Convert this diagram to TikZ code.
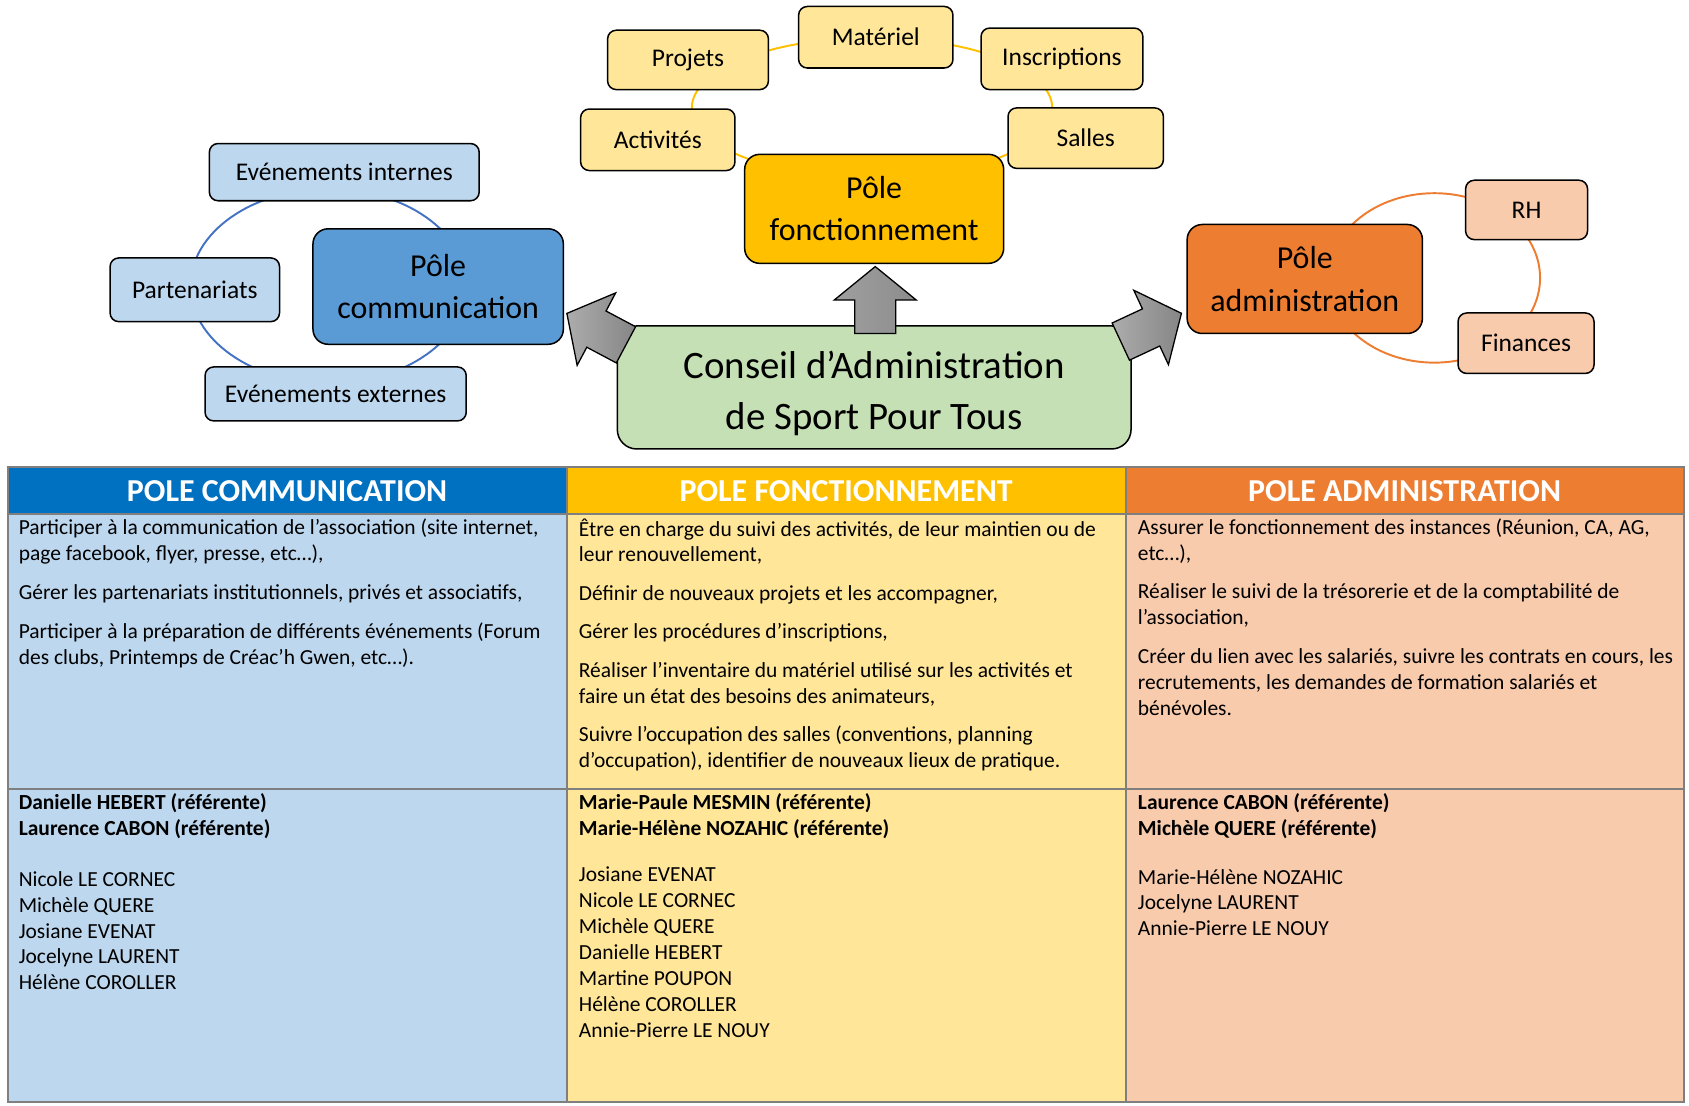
\documentclass[tikz,border=0pt]{standalone}
\usepackage{fontspec}
\setmainfont{Carlito}
\usetikzlibrary{positioning}

\definecolor{comdark}{HTML}{5B9BD5}
\definecolor{comlight}{HTML}{BDD7EE}
\definecolor{comline}{HTML}{4472C4}
\definecolor{comhead}{HTML}{0070C0}
\definecolor{fondark}{HTML}{FFC000}
\definecolor{fonlight}{HTML}{FFE699}
\definecolor{admdark}{HTML}{ED7D31}
\definecolor{admlight}{HTML}{F8CBAD}
\definecolor{cagreen}{HTML}{C5E0B4}
\definecolor{gridgray}{HTML}{7F7F7F}

\begin{document}
\begin{tikzpicture}[x=0.5pt,y=-0.5pt,
	box/.style={draw=black,line width=0.7pt,rounded corners=4pt,inner sep=0pt,align=center,font=\fontsize{11.8}{14}\selectfont},
	pole/.style={box,rounded corners=7pt,font=\fontsize{14.8}{19.5}\selectfont},
	ring/.style={line width=0.9pt},
	grayarrow/.style={draw=black,line width=0.6pt},
	head/.style={text=white,font=\bfseries\fontsize{14.8}{17}\selectfont},
	cell/.style={anchor=north west,inner sep=0pt,align=left,font=\fontsize{9.95}{12}\selectfont}]
	\useasboundingbox (0,0) rectangle (1565,1024);

	% rings behind the boxes
	\coordinate (ccom) at (304.5,265);
	\coordinate (cfon) at (808,100);
	\coordinate (cadm) at (1329,257.5);
	\draw[ring,comline] (ccom) ellipse [x radius=128,y radius=90];
	\draw[ring,fondark] (cfon) ellipse [x radius=167,y radius=65];
	\draw[ring,admdark] (cadm) ellipse [x radius=98,y radius=78.5];

	% pole communication
	\node[pole,fill=comdark,minimum width=116pt,minimum height=53.5pt] (Pcom) at (406,265.5) {Pôle\\communication};
	\node[box,fill=comlight,minimum width=125pt,minimum height=26.5pt] (Evint) at (319,159.5) {Evénements internes};
	\node[box,fill=comlight,minimum width=78.5pt,minimum height=29.5pt] (Part) at (180.5,268.5) {Partenariats};
	\node[box,fill=comlight,minimum width=121pt,minimum height=25pt] (Evext) at (311,365) {Evénements externes};

	% pole fonctionnement
	\node[pole,fill=fondark,minimum width=120pt,minimum height=50.5pt] (Pfon) at (810,193.5) {Pôle\\fonctionnement};
	\node[box,fill=fonlight,minimum width=74.5pt,minimum height=27.5pt] (Proj) at (637.5,55.5) {Projets};
	\node[box,fill=fonlight,minimum width=71.5pt,minimum height=28.5pt] (Mat) at (811.5,34.5) {Matériel};
	\node[box,fill=fonlight,minimum width=75pt,minimum height=28.5pt] (Insc) at (984,54.5) {Inscriptions};
	\node[box,fill=fonlight,minimum width=71.5pt,minimum height=28.5pt] (Act) at (609.5,129.5) {Activités};
	\node[box,fill=fonlight,minimum width=72pt,minimum height=28pt] (Sal) at (1006,128) {Salles};

	% pole administration
	\node[pole,fill=admdark,minimum width=109pt,minimum height=50.5pt] (Padm) at (1209,258.5) {Pôle\\administration};
	\node[box,fill=admlight,minimum width=56.5pt,minimum height=27.5pt] (RH) at (1414.5,194.5) {RH};
	\node[box,fill=admlight,minimum width=63pt,minimum height=28pt] (Fin) at (1414,318) {Finances};

	% conseil
	\node[box,rounded corners=9pt,fill=cagreen,minimum width=238pt,minimum height=57pt,font=\fontsize{18}{23.5}\selectfont] (CA) at (810,359) {\rule{0pt}{18pt}Conseil d’Administration\\de Sport Pour Tous};

	% block arrows from CA
	\coordinate (bcom) at (580,319.5);
	\coordinate (bfon) at (811,309);
	\coordinate (badm) at (1038.5,316.5);
	\draw[grayarrow,shift={(bcom)},rotate=152,left color=gray!65,right color=gray!95] (0,-19) -- (31,-19) -- (31,-38) -- (62,0) -- (31,38) -- (31,19) -- (0,19) -- cycle;
	\draw[grayarrow,shift={(bfon)},rotate=90,left color=gray!75,right color=gray!90] (0,-19) -- (31,-19) -- (31,-38) -- (62,0) -- (31,38) -- (31,19) -- (0,19) -- cycle;
	\draw[grayarrow,shift={(badm)},rotate=25,left color=gray!65,right color=gray!95] (0,-19) -- (31,-19) -- (31,-38) -- (62,0) -- (31,38) -- (31,19) -- (0,19) -- cycle;

	% table
	\fill[comhead] (7,433) rectangle (525,476);
	\fill[fondark] (525,433) rectangle (1043,476);
	\fill[admdark] (1043,433) rectangle (1560,476);
	\fill[comlight] (7,476) rectangle (525,1021);
	\fill[fonlight] (525,476) rectangle (1043,1021);
	\fill[admlight] (1043,476) rectangle (1560,1021);
	\draw[gridgray,line width=0.9pt] (7,433) rectangle (1560,1021)
		(7,476) -- (1560,476) (7,731) -- (1560,731)
		(525,433) -- (525,1021) (1043,433) -- (1043,1021);

	\node[head] (Hcom) at (266,455) {POLE COMMUNICATION};
	\node[head] (Hfon) at (784,455) {POLE FONCTIONNEMENT};
	\node[head] (Hadm) at (1301.5,455) {POLE ADMINISTRATION};

	\node[cell] (Tcom) at (17,480) {Participer à la communication de l’association (site internet,\\page facebook, flyer, presse, etc…),\\[6.2pt]
		Gérer les partenariats institutionnels, privés et associatifs,\\[6.2pt]
		Participer à la préparation de différents événements (Forum\\des clubs, Printemps de Créac’h Gwen, etc…).};
	\node[cell] (Tfon) at (536,480) {Être en charge du suivi des activités, de leur maintien ou de\\leur renouvellement,\\[5.8pt]
		Définir de nouveaux projets et les accompagner,\\[5.8pt]
		Gérer les procédures d’inscriptions,\\[5.8pt]
		Réaliser l’inventaire du matériel utilisé sur les activités et\\faire un état des besoins des animateurs,\\[5.8pt]
		Suivre l’occupation des salles (conventions, planning\\d’occupation), identifier de nouveaux lieux de pratique.};
	\node[cell] (Tadm) at (1054,480) {Assurer le fonctionnement des instances (Réunion, CA, AG,\\etc…),\\[6pt]
		Réaliser le suivi de la trésorerie et de la comptabilité de\\l’association,\\[6pt]
		Créer du lien avec les salariés, suivre les contrats en cours, les\\recrutements, les demandes de formation salariés et\\bénévoles.};

	\node[cell] (Mcom) at (17,735) {\textbf{Danielle HEBERT (référente)}\\\textbf{Laurence CABON (référente)}\\[11.5pt]
		Nicole LE CORNEC\\Michèle QUERE\\Josiane EVENAT\\Jocelyne LAURENT\\Hélène COROLLER};
	\node[cell] (Mfon) at (536,735) {\textbf{Marie-Paule MESMIN (référente)}\\\textbf{Marie-Hélène NOZAHIC (référente)}\\[9.5pt]
		Josiane EVENAT\\Nicole LE CORNEC\\Michèle QUERE\\Danielle HEBERT\\Martine POUPON\\Hélène COROLLER\\Annie-Pierre LE NOUY};
	\node[cell] (Madm) at (1054,735) {\textbf{Laurence CABON (référente)}\\\textbf{Michèle QUERE (référente)}\\[10.5pt]
		Marie-Hélène NOZAHIC\\Jocelyne LAURENT\\Annie-Pierre LE NOUY};
\end{tikzpicture}
\end{document}
